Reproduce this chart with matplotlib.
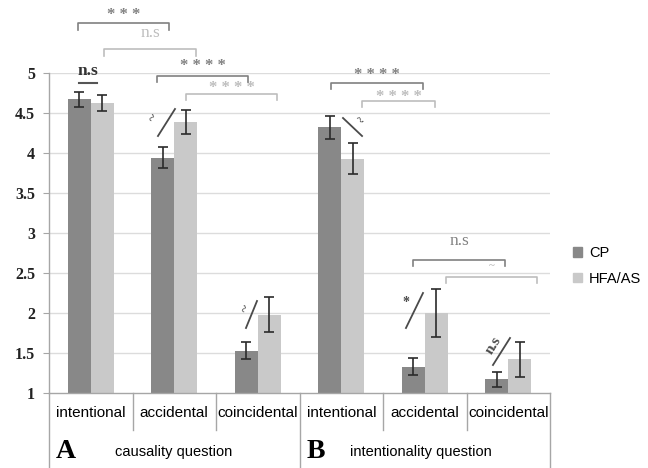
import numpy as np
import matplotlib
matplotlib.use('Agg')
import matplotlib.pyplot as plt
from matplotlib.patches import Patch

categories = ['intentional', 'accidental', 'coincidental',
              'intentional', 'accidental', 'coincidental']
groups = ['causality question', 'intentionality question']
group_letters = ['A', 'B']
series = ['CP', 'HFA/AS']

cp_mean = [4.67, 3.94, 1.53, 4.32, 1.33, 1.17]
cp_err = [0.09, 0.13, 0.11, 0.14, 0.11, 0.09]
hfa_mean = [4.63, 4.39, 1.98, 3.93, 2.00, 1.42]
hfa_err = [0.10, 0.15, 0.22, 0.19, 0.30, 0.22]

yticks = [1, 1.5, 2, 2.5, 3, 3.5, 4, 4.5, 5]

W, H = 648, 468
dark = '#888888'
light = '#c9c9c9'
brk_dark = '#808080'
brk_light = '#bdbdbd'
slash_col = '#4a4a4a'
axcol = '#a6a6a6'

fig = plt.figure(figsize=(W/100, H/100), dpi=100)
# plot box in pixels: x 49..550, y 73 (value 5) .. 393 (value 1)
ax = fig.add_axes([49/W, (H-393)/H, 501/W, 320/H])
ax.set_xlim(0, 6)
ax.set_ylim(1, 5)

x = np.arange(len(categories)) + 0.5
bw = 0.275
ax.bar(x - bw/2, cp_mean, bw, bottom=0, color=dark, zorder=2)
ax.bar(x + bw/2, hfa_mean, bw, color=light, zorder=2)
ax.errorbar(x - bw/2, cp_mean, yerr=cp_err, fmt='none', ecolor='#2b2b2b',
            elinewidth=1.2, capsize=3.5, capthick=1.2, zorder=3)
ax.errorbar(x + bw/2, hfa_mean, yerr=hfa_err, fmt='none', ecolor='#2b2b2b',
            elinewidth=1.2, capsize=3.5, capthick=1.2, zorder=3)

for yv in yticks[1:]:
    ax.axhline(yv, color='#dcdcdc', lw=1.0, zorder=1)

for s in ['top', 'right']:
    ax.spines[s].set_visible(False)
for s in ['left', 'bottom']:
    ax.spines[s].set_color(axcol)
    ax.spines[s].set_linewidth(1.0)
ax.set_yticks(yticks)
ax.set_yticklabels([('%g' % v) for v in yticks], fontfamily='Liberation Serif',
                   fontsize=11.5, fontweight='bold', color='#222222')
ax.tick_params(axis='y', length=4, color=axcol, pad=6)
ax.set_xticks([])

# table-like category axis below the plot
xt = ax.get_xaxis_transform()
for i in range(len(categories) + 1):
    ybot = -75/320 if i % 3 == 0 else -37/320
    ax.plot([i, i], [0, ybot], transform=xt, color=axcol, lw=1.0, clip_on=False)
for i, c in enumerate(categories):
    ax.text(x[i], -20/320, c, transform=xt, ha='center', va='center',
            fontsize=11, family='Liberation Sans')
for g in range(2):
    ax.text(3*g + 7/83.5, -59/320, group_letters[g], transform=xt, ha='left',
            va='center', fontsize=20, fontweight='bold', family='Liberation Serif')
    ax.text(3*g + (66 if g == 0 else 51)/83.5, -59/320, groups[g], transform=xt,
            ha='left', va='center', fontsize=10.5, family='Liberation Sans')


def bracket(x0, x1, y, leg, col, label, ly, fs=12, fw='bold'):
    ax.plot([x0, x0, x1, x1], [y - leg, y, y, y - leg], color=col, lw=1.2,
            clip_on=False, zorder=4)
    ax.text((x0 + x1)/2, ly, label, color=col, ha='center', va='center',
            fontsize=fs, family='Liberation Serif', fontweight=fw,
            clip_on=False)


bracket(0.347, 1.437, 5.625, 0.09, brk_dark, '* * *', 5.73)
bracket(0.659, 1.760, 5.30, 0.09, brk_light, 'n.s', 5.50, fs=12.5, fw='normal')
bracket(1.293, 2.383, 4.9625, 0.075, brk_dark, '* * * *', 5.09)
bracket(1.641, 2.731, 4.7375, 0.075, brk_light, '* * * *', 4.81)
bracket(3.377, 4.479, 4.875, 0.075, brk_dark, '* * * *', 4.97)
bracket(3.749, 4.623, 4.65, 0.075, brk_light, '* * * *', 4.70)
bracket(4.359, 5.461, 2.6625, 0.075, brk_dark, 'n.s', 2.90, fs=12.5, fw='normal')
bracket(4.754, 5.844, 2.45, 0.075, brk_light, '~', 2.59, fs=8)

# n.s between the two intentional bars of panel A
ax.text(0.467, 5.02, 'n.s', ha='center', va='center', fontsize=12.5,
        family='Liberation Serif', fontweight='bold', color='#333333',
        clip_on=False)
ax.plot([0.36, 0.58], [4.875, 4.875], color='#555555', lw=1.5, clip_on=False)

# slashes between paired bars
slashes = [((1.305, 4.2125), (1.509, 4.55), '~', (1.255, 4.44), 60),
           ((2.359, 1.8125), (2.491, 2.15), '~', (2.37, 2.05), 70),
           ((3.521, 4.4375), (3.749, 4.2125), '~', (3.70, 4.40), -45),
           ((4.275, 1.8125), (4.479, 2.25), '*', (4.27, 2.13), 0),
           ((5.317, 1.35), (5.521, 1.6875), 'n.s', (5.32, 1.60), 58)]
for p0, p1, lab, lp, rot in slashes:
    ax.plot([p0[0], p1[0]], [p0[1], p1[1]], color=slash_col, lw=1.3, zorder=4)
    ax.text(lp[0], lp[1], lab, rotation=rot, ha='center', va='center',
            fontsize=11 if lab == 'n.s' else 10, color=slash_col,
            family='Liberation Serif', fontweight='bold')

handles = [Patch(color=dark), Patch(color=light)]
fig.legend(handles, series, loc='center left',
           bbox_to_anchor=(560/W, 1 - 266/H), frameon=False,
           handlelength=0.6, handleheight=0.6, handletextpad=0.5,
           labelspacing=0.8, prop={'family': 'Liberation Sans', 'size': 10.5})

fig.savefig('out.png', dpi=100)
